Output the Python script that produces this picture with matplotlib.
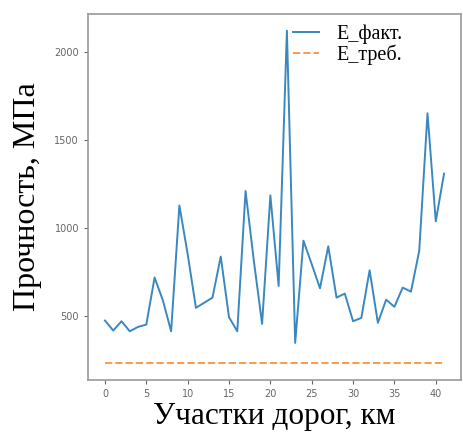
import matplotlib
matplotlib.use('Agg')
import matplotlib.pyplot as plt
import numpy as np

# участки 0..41
km = np.arange(42)
e_fact = [475, 418, 471, 414, 439, 452, 719, 590, 414, 1128,
          852, 547, 576, 605, 838, 494, 414, 1210, 814, 456,
          1185, 671, 2120, 348, 928, 795, 658, 896, 605, 628,
          471, 490, 760, 462, 593, 553, 662, 639, 871, 1651,
          1038, 1309]
e_treb = [232] * len(km)

fig = plt.figure(figsize=(4.63, 4.33), dpi=100)
ax = fig.add_axes([88/463, 1-380/433, (461-88)/463, (380-14)/433])

ax.plot(km, e_fact, '-', color='#3a88c0', lw=1.4, label='E_факт.')
ax.plot(km, e_treb, '--', color='#ff9a40', lw=1.4, label='E_треб.')

ax.set_xticks([0, 5, 10, 15, 20, 25, 30, 35, 40])
ax.set_yticks([500, 1000, 1500, 2000])
ax.tick_params(labelsize=7, colors='#666666', length=3)
for s in ax.spines.values():
    s.set_color('#999999')
    s.set_linewidth(1.2)

ax.set_xlabel('Участки дорог, км', fontfamily='Liberation Serif', fontsize=22.5, labelpad=2)
ax.set_ylabel('Прочность, МПа', fontfamily='Liberation Serif', fontsize=23, labelpad=9)

ax.legend(loc='upper left', bbox_to_anchor=(0.5, 1.02), frameon=False,
          prop={'family': 'Liberation Serif', 'size': 14.5},
          labelspacing=0.0, handlelength=1.3, handletextpad=0.9)

fig.savefig('out.png', dpi=100)
